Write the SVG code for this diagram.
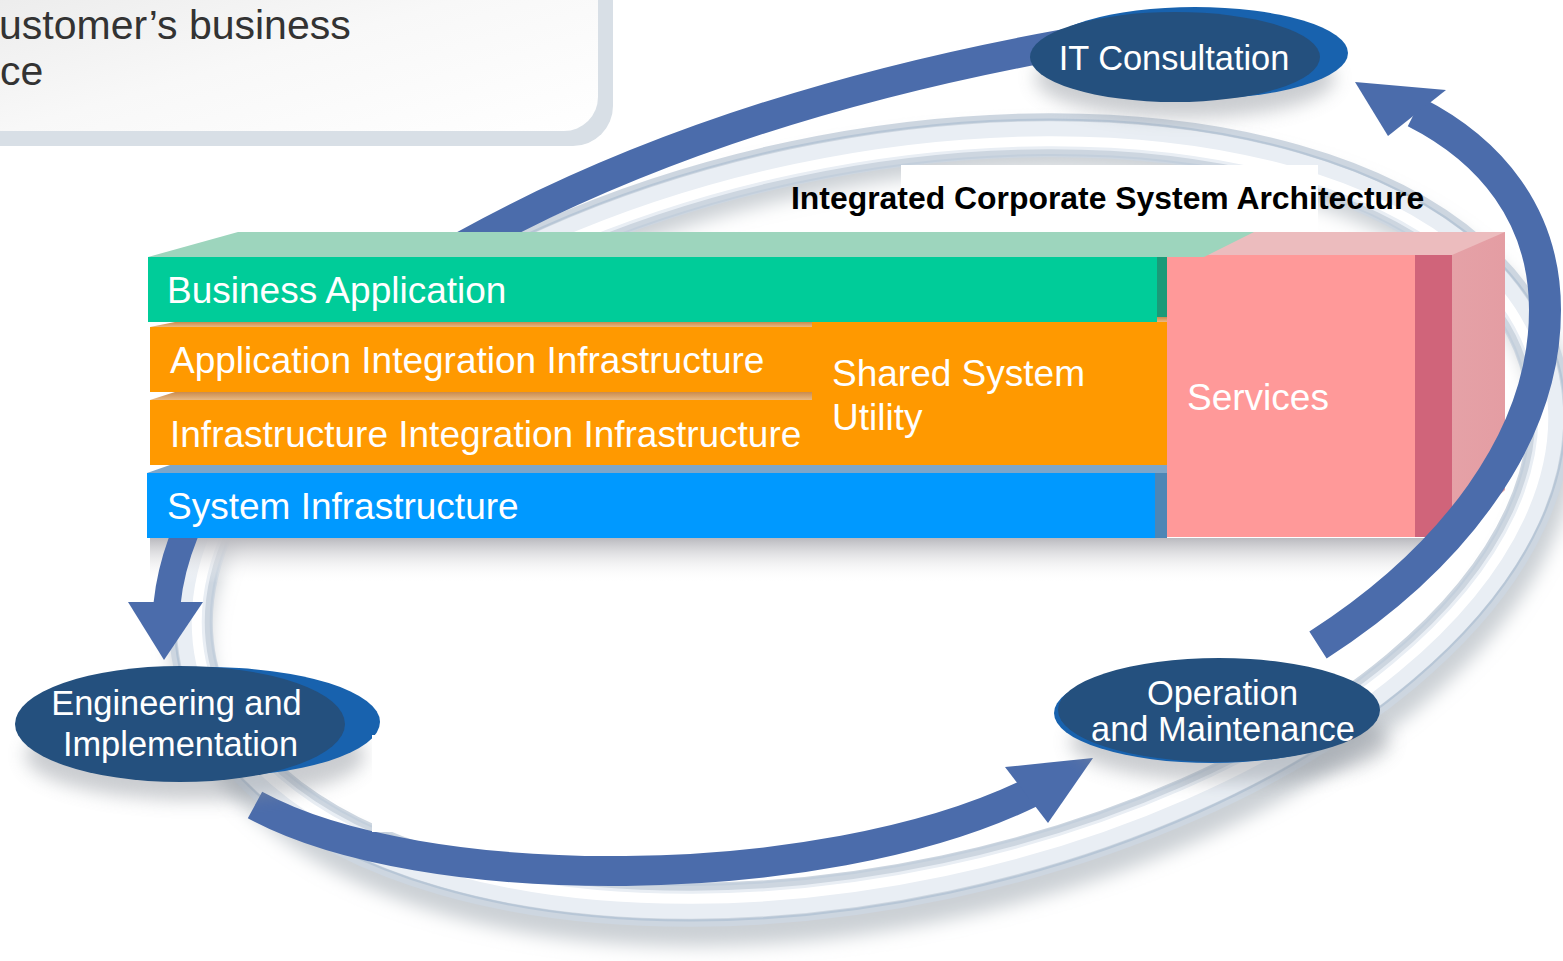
<svg xmlns="http://www.w3.org/2000/svg" width="1563" height="961" viewBox="0 0 1563 961">
<defs>
  <linearGradient id="boxFill" x1="0" y1="0" x2="1" y2="1">
    <stop offset="0" stop-color="#e6e6e6"/>
    <stop offset="0.55" stop-color="#f8f8f8"/>
    <stop offset="1" stop-color="#ffffff"/>
  </linearGradient>
  <linearGradient id="stackShadow" x1="0" y1="0" x2="0" y2="1">
    <stop offset="0" stop-color="#b9b9be"/>
    <stop offset="1" stop-color="#ffffff" stop-opacity="0"/>
  </linearGradient>
  <linearGradient id="tan" x1="0" y1="0" x2="0" y2="1">
    <stop offset="0" stop-color="#c98b4e"/>
    <stop offset="1" stop-color="#eab982"/>
  </linearGradient>
  <linearGradient id="pinkSide" x1="0" y1="0" x2="1" y2="0">
    <stop offset="0" stop-color="#ebb8ba"/>
    <stop offset="1" stop-color="#e49da3"/>
  </linearGradient>
  <filter id="soft" x="-10%" y="-10%" width="120%" height="120%">
    <feGaussianBlur stdDeviation="9"/>
  </filter>
  <filter id="softS" x="-30%" y="-80%" width="160%" height="260%">
    <feGaussianBlur stdDeviation="9"/>
  </filter>
  <clipPath id="clipTop"><rect x="0" y="0" width="1563" height="232"/></clipPath>
  <clipPath id="clipBottom"><rect x="0" y="538" width="1563" height="423"/></clipPath>
</defs>
<style>
  .lbl{font-family:"Liberation Sans",Arial,sans-serif;fill:#ffffff;font-size:37px}
  .node{font-family:"Liberation Sans",Arial,sans-serif;fill:#ffffff;font-size:34.4px;text-anchor:middle}
  .intro{font-family:"Liberation Sans",Arial,sans-serif;fill:#333333;font-size:41px}
  .title{font-family:"Liberation Sans",Arial,sans-serif;fill:#000000;font-size:31.9px;font-weight:bold}
  .arrow{fill:none;stroke:#4b6cab;stroke-linecap:butt}
  .head{fill:#4b6cab}
  .navy{fill:#24507e}
  .crescent{fill:#1862ae}
  .nshadow{fill:#8a9098;opacity:0.45}
  .tube{fill:none}
</style>
<rect width="1563" height="961" fill="#ffffff"/>

<!-- background ring -->
<g id="ring" transform="rotate(-12 870 520)">
  <ellipse class="tube" cx="870" cy="538" rx="694" ry="369" stroke="#97a1ac" stroke-opacity="0.5" stroke-width="40" filter="url(#soft)"/>
  <ellipse class="tube" cx="870" cy="520" rx="690" ry="365" stroke="#cdd6e0" stroke-width="44"/>
  <ellipse class="tube" cx="870" cy="520" rx="690" ry="365" stroke="#e9eef4" stroke-width="28"/>
  <ellipse class="tube" cx="870" cy="520" rx="684" ry="359" stroke="#ffffff" stroke-width="10"/>
  <ellipse class="tube" cx="870" cy="520" rx="706" ry="381" stroke="#b7c6d6" stroke-width="2"/>
  <ellipse class="tube" cx="870" cy="520" rx="670" ry="345" stroke="#c3cfdc" stroke-width="2"/>
</g>

<!-- stack shadow -->
<rect x="150" y="538" width="1280" height="45" fill="url(#stackShadow)"/>

<!-- services block -->
<g id="node-services">
  <polygon points="1167,255 1240,232 1505,232 1505,490 1452,537 1452,255" fill="url(#pinkSide)"/>
  <polygon points="1240,232 1505,232 1452,255 1205,257" fill="#ecbcbe"/>
  <rect x="1415" y="255" width="37" height="282" fill="#d0647a"/>
  <rect x="1167" y="255" width="248" height="282" fill="#ff9999"/>
  <text class="lbl" x="1187" y="410">Services</text>
</g>

<!-- business application -->
<g id="node-business-application">
  <polygon points="148,257 238,232 1254,232 1204,257" fill="#9dd5bd"/>
  <rect x="148" y="257" width="1009" height="65" fill="#00cc99"/>
  <rect x="1157" y="257" width="10" height="65" fill="#1a9a78"/>
  <text class="lbl" x="167" y="303">Business Application</text>
</g>

<!-- application integration infrastructure -->
<g id="node-application-integration">
  <polygon points="150,327 175,322 812,322 812,327" fill="url(#tan)"/>
  <rect x="150" y="327" width="662" height="65" fill="#ff9900"/>
  <text class="lbl" x="170" y="373">Application Integration Infrastructure</text>
</g>

<!-- infrastructure integration infrastructure -->
<g id="node-infrastructure-integration">
  <polygon points="150,400 175,392 812,392 812,400" fill="url(#tan)"/>
  <rect x="150" y="400" width="662" height="65" fill="#ff9900"/>
  <text class="lbl" x="170" y="447">Infrastructure Integration Infrastructure</text>
</g>

<!-- shared system utility -->
<g id="node-shared-system-utility">
  <rect x="1157" y="317" width="10" height="5" fill="url(#tan)"/>
  <rect x="812" y="322" width="355" height="143" fill="#ff9900"/>
  <text class="lbl" x="832" y="386">Shared System</text>
  <text class="lbl" x="832" y="430">Utility</text>
</g>

<!-- system infrastructure -->
<g id="node-system-infrastructure">
  <polygon points="147,473 170,465 1167,465 1167,473" fill="#7ea6c9"/>
  <rect x="147" y="473" width="1008" height="65" fill="#0099ff"/>
  <rect x="1155" y="473" width="12" height="65" fill="#4d86b5"/>
  <text class="lbl" x="167" y="519">System Infrastructure</text>
</g>

<!-- connectors -->
<g id="connectors">
  <g clip-path="url(#clipTop)">
    <path class="arrow" d="M 435 262 Q 690 112 1065 44" stroke-width="30"/>
  </g>
  <path class="arrow" d="M 1318 645 C 1450 560 1545 440 1545 310 C 1545 215 1490 150 1415 112" stroke-width="32"/>
  <polygon class="head" points="1355,82 1446,90 1388,136"/>
  <g clip-path="url(#clipBottom)">
    <path class="arrow" d="M 188 526 Q 171 565 167 604" stroke-width="27"/>
  </g>
  <polygon class="head" points="128,602 203,602 164,660"/>
  <path class="arrow" d="M 255 805 C 420 895 820 895 1030 793" stroke-width="30"/>
  <polygon class="head" points="1005,767 1093,758 1048,823"/>
</g>

<!-- nodes: ellipses -->
<g id="node-it-consultation">
  <ellipse class="nshadow" cx="1185" cy="78" rx="150" ry="40" filter="url(#softS)"/>
  <ellipse class="crescent" cx="1195" cy="53" rx="153" ry="46"/>
  <ellipse class="navy" cx="1175" cy="57" rx="145" ry="45"/>
  <text class="node" x="1174" y="70">IT Consultation</text>
</g>

<g id="node-engineering-implementation">
  <ellipse class="nshadow" cx="195" cy="755" rx="170" ry="45" filter="url(#softS)"/>
  <ellipse class="crescent" cx="205" cy="722" rx="175" ry="55"/>
  <ellipse class="navy" cx="180" cy="724" rx="165" ry="58"/>
  <text class="node" x="176.5" y="715">Engineering and</text>
  <text class="node" x="180.5" y="756">Implementation</text>
</g>

<g id="node-operation-maintenance">
  <ellipse class="nshadow" cx="1230" cy="742" rx="160" ry="40" filter="url(#softS)"/>
  <ellipse class="crescent" cx="1212" cy="713" rx="158" ry="50"/>
  <ellipse class="navy" cx="1219" cy="710" rx="161" ry="52"/>
  <text class="node" x="1222.5" y="705">Operation</text>
  <text class="node" x="1223" y="741">and Maintenance</text>
</g>

<!-- white patches -->
<rect x="372" y="735" width="330" height="97" fill="#ffffff"/>
<rect x="901" y="165" width="417" height="67" fill="#ffffff"/>

<!-- intro box -->
<g id="intro-box">
  <rect x="-60" y="-60" width="673" height="206" rx="40" fill="#d8dfe6"/>
  <rect x="-60" y="-60" width="658" height="191" rx="34" fill="url(#boxFill)"/>
  <text class="intro" x="-1" y="39">ustomer’s business</text>
  <text class="intro" x="0" y="85">ce</text>
</g>

<!-- title -->
<g id="title">
  <text class="title" x="791" y="209">Integrated Corporate System Architecture</text>
</g>
</svg>
